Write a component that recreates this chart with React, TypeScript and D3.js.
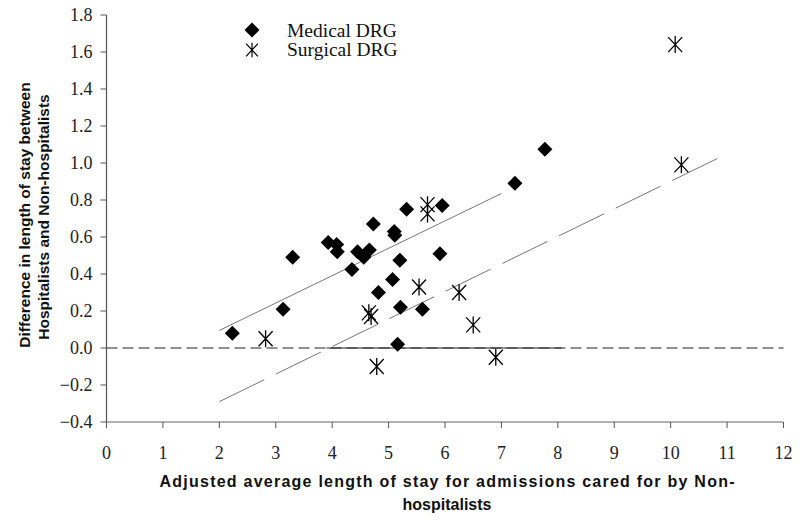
import React from "react";
import * as d3 from "d3";

const xTicks = [0, 1, 2, 3, 4, 5, 6, 7, 8, 9, 10, 11, 12];
const yTicks = [-0.4, -0.2, 0, 0.2, 0.4, 0.6, 0.8, 1.0, 1.2, 1.4, 1.6, 1.8];

const medicalX = [2.23, 3.13, 3.3, 3.93, 4.08, 4.09, 4.35, 4.45, 4.56, 4.66, 4.73, 4.82, 5.07, 5.1, 5.11, 5.2, 5.21, 5.16, 5.32, 5.6, 5.91, 5.95, 7.24, 7.77];
const medicalY = [0.08, 0.21, 0.49, 0.57, 0.56, 0.52, 0.425, 0.52, 0.49, 0.53, 0.67, 0.3, 0.37, 0.63, 0.61, 0.475, 0.22, 0.02, 0.75, 0.21, 0.51, 0.77, 0.89, 1.075];

const surgicalX = [2.82, 4.65, 4.69, 4.79, 5.54, 5.69, 5.69, 6.25, 6.5, 6.9, 10.19, 10.08];
const surgicalY = [0.05, 0.19, 0.17, -0.1, 0.33, 0.775, 0.725, 0.3, 0.125, -0.05, 0.99, 1.64];

const medicalFitX = [2, 7];
const medicalFitY = [0.095, 0.835];
const surgicalFitX = [2, 11];
const surgicalFitY = [-0.29, 1.05];
const zeroSolidX = [3.9, 8.07];

const legendLabels = ["Medical DRG", "Surgical DRG"];
const xTitle1 = "Adjusted average length of stay for admissions cared for by Non-";
const xTitle2 = "hospitalists";
const yTitle1 = "Difference in length of stay between";
const yTitle2 = "Hospitalists and Non-hospitalists";

const W = 800;
const H = 520;

const diamondPath = "M0,-7.5L7.5,0L0,7.5L-7.5,0Z";
const asteriskPath = "M0,-8.5L0,8.5M-7,-7.5L7,7.5M-7,7.5L7,-7.5";

export default function App() {
  const x = d3.scaleLinear().domain([0, 12]).range([106.5, 783.5]);
  const y = d3.scaleLinear().domain([-0.4, 1.8]).range([422, 15]);
  const line = d3
    .line<[number, number]>()
    .x((d) => x(d[0]))
    .y((d) => y(d[1]));

  const medFit: [number, number][] = medicalFitX.map((v, i) => [v, medicalFitY[i]]);
  const surFit: [number, number][] = surgicalFitX.map((v, i) => [v, surgicalFitY[i]]);

  const serif = "Liberation Serif, Times New Roman, serif";
  const sans = "Liberation Sans, Arial, sans-serif";

  return (
    <svg
      width={W}
      height={H}
      style={{ position: "absolute", left: 0, top: 0, background: "#fff" }}
    >
      <rect x={0} y={0} width={W} height={H} fill="#fff" />
      {/* zero reference line */}
      <line
        x1={x(0)}
        x2={x(12)}
        y1={y(0)}
        y2={y(0)}
        stroke="#222"
        strokeWidth={1}
        strokeDasharray="11,5"
      />
      <line
        x1={x(zeroSolidX[0])}
        x2={x(zeroSolidX[1])}
        y1={y(0)}
        y2={y(0)}
        stroke="#222"
        strokeWidth={1}
      />
      {/* fit lines */}
      <path d={line(medFit) || ""} fill="none" stroke="#777" strokeWidth={1} />
      <path
        d={line(surFit) || ""}
        fill="none"
        stroke="#777"
        strokeWidth={1}
        strokeDasharray="50,13"
      />
      {/* axes */}
      <line x1={x(0)} x2={x(0)} y1={y(1.8)} y2={y(-0.4)} stroke="#555" strokeWidth={1.2} />
      <line x1={x(0)} x2={x(12)} y1={y(-0.4)} y2={y(-0.4)} stroke="#666" strokeWidth={1.2} />
      {yTicks.map((t) => (
        <g key={"y" + t}>
          <line x1={x(0) - 6} x2={x(0)} y1={y(t)} y2={y(t)} stroke="#555" strokeWidth={1} />
          <text
            x={x(0) - 14}
            y={y(t)}
            dy="0.35em"
            textAnchor="end"
            style={{ fontFamily: serif, fontSize: "18px" }}
            fill="#222"
          >
            {d3.format(".1f")(t)}
          </text>
        </g>
      ))}
      {xTicks.map((t) => (
        <g key={"x" + t}>
          <line x1={x(t)} x2={x(t)} y1={y(-0.4)} y2={y(-0.4) + 6} stroke="#555" strokeWidth={1} />
          <text
            x={x(t)}
            y={459}
            textAnchor="middle"
            style={{ fontFamily: serif, fontSize: "18px" }}
            fill="#222"
          >
            {t}
          </text>
        </g>
      ))}
      {/* axis titles */}
      <text
        x={447}
        y={487}
        textAnchor="middle"
        style={{ fontFamily: sans, fontWeight: "bold", fontSize: "16px" }}
        fill="#111"
        textLength={575}
        lengthAdjust="spacing"
      >
        {xTitle1}
      </text>
      <text
        x={447}
        y={510}
        textAnchor="middle"
        style={{ fontFamily: sans, fontWeight: "bold", fontSize: "16px" }}
        fill="#111"
      >
        {xTitle2}
      </text>
      <text
        transform={`translate(30,215) rotate(-90)`}
        textAnchor="middle"
        style={{ fontFamily: sans, fontWeight: "bold", fontSize: "15.5px" }}
        fill="#111"
      >
        {yTitle1}
      </text>
      <text
        transform={`translate(49,217) rotate(-90)`}
        textAnchor="middle"
        style={{ fontFamily: sans, fontWeight: "bold", fontSize: "15.5px" }}
        fill="#111"
      >
        {yTitle2}
      </text>
      {/* points */}
      {medicalX.map((v, i) => (
        <path
          key={"m" + i}
          d={diamondPath}
          transform={`translate(${x(v)},${y(medicalY[i])})`}
          fill="#000"
        />
      ))}
      {surgicalX.map((v, i) => (
        <path
          key={"s" + i}
          d={asteriskPath}
          transform={`translate(${x(v)},${y(surgicalY[i])})`}
          fill="none"
          stroke="#000"
          strokeWidth={1.3}
        />
      ))}
      {/* legend */}
      <path d={diamondPath} transform="translate(252,30)" fill="#000" />
      <path
        d={asteriskPath}
        transform="translate(252,50) scale(0.85)"
        fill="none"
        stroke="#000"
        strokeWidth={1.4}
      />
      <text x={287} y={37} style={{ fontFamily: serif, fontSize: "19.5px" }} fill="#111">
        {legendLabels[0]}
      </text>
      <text x={287} y={56} style={{ fontFamily: serif, fontSize: "19.5px" }} fill="#111">
        {legendLabels[1]}
      </text>
    </svg>
  );
}
